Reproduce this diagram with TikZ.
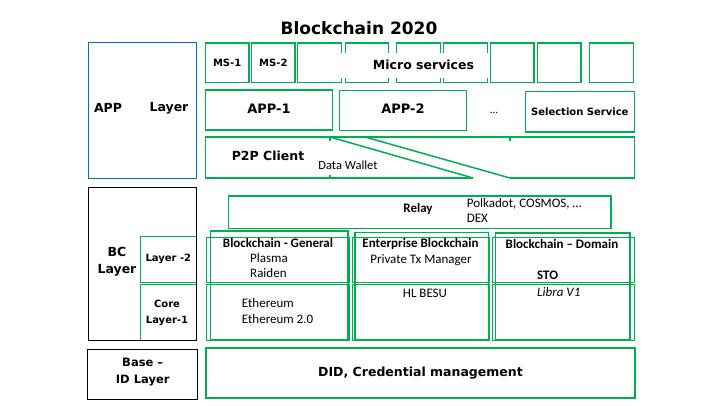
\documentclass[tikz,border=0pt]{standalone}
\usepackage{fontspec}
\setmainfont{Carlito}
\newfontfamily\dv{DejaVu Sans}
\definecolor{G}{HTML}{00B050}
\definecolor{BL}{HTML}{0070C0}
\begin{document}
\begin{tikzpicture}[x=1pt,y=-1pt,
  gbox/.style={draw=G, line width=1.5pt, inner sep=0pt},
  tbox/.style={draw=G, line width=0.8pt, inner sep=0pt},
  kbox/.style={draw=black, line width=1pt, inner sep=0pt},
  gline/.style={draw=G, line width=1.5pt},
  txt/.style={inner sep=0pt, text=black},
  dvbig/.style={font=\dv\bfseries\fontsize{12.5}{16.5}\selectfont},
  dvsmall/.style={font=\dv\bfseries\fontsize{10}{15.7}\selectfont},
  cal/.style={font=\fontsize{13}{15.6}\selectfont},
  calb/.style={font=\bfseries\fontsize{13}{15.6}\selectfont},
]
\useasboundingbox (0,0) rectangle (720,405);
\fill[white] (0,0) rectangle (720,405);

% title
\node[txt, font=\dv\bfseries\fontsize{17}{20}\selectfont] (title) at (359,28) {Blockchain 2020};

% APP layer
\node[draw=BL, line width=0.9pt, inner sep=0pt, minimum width=108.7pt, minimum height=135.3pt] (applayer) at (142.35,110.35) {};
\node[txt, dvbig] (applbl1) at (108,108) {APP};
\node[txt, dvbig] (applbl2) at (169,108) {Layer};

% micro services row
\node[gbox, minimum width=43.7pt, minimum height=39.7pt, dvsmall] (ms1) at (227.15,62.85) {MS-1};
\node[gbox, minimum width=43.3pt, minimum height=39.7pt, dvsmall] (ms2) at (273.35,62.85) {MS-2};
\node[gbox, minimum width=44.2pt, minimum height=39.7pt] (ms3) at (319.4,62.85) {};
\node[gbox, minimum width=42.6pt, minimum height=39.7pt] (ms4) at (367,62.85) {};
\node[gbox, minimum width=43.8pt, minimum height=39.7pt] (ms5) at (418.6,62.85) {};
\node[gbox, minimum width=44pt, minimum height=39.7pt] (ms6) at (465.3,62.85) {};
\node[gbox, minimum width=43.3pt, minimum height=39.7pt] (ms7) at (512.35,62.85) {};
\node[gbox, minimum width=43.3pt, minimum height=39.7pt] (ms8) at (559.35,62.85) {};
\node[gbox, minimum width=44pt, minimum height=39.7pt] (ms9) at (611.3,62.85) {};
\node[fill=white, inner sep=0pt, minimum width=150.5pt, minimum height=25pt] (mscover) at (414.25,65.5) {};
\node[txt, dvbig] (mstext) at (423.5,64.5) {Micro services};

% apps row
\node[gbox, minimum width=127pt, minimum height=40pt] (app1) at (268.8,110) {};
\node[txt, font=\dv\bfseries\fontsize{13}{16}\selectfont] (app1txt) at (269,108.3) {APP-1};
\node[gbox, minimum width=127.4pt, minimum height=40pt] (app2) at (403,110.5) {};
\node[txt, font=\dv\bfseries\fontsize{13}{16}\selectfont] (app2txt) at (403,108.5) {APP-2};
\node[txt, font=\fontsize{11}{13}\selectfont] (dots) at (494,113) {…};
\node[gbox, minimum width=109pt, minimum height=40.7pt, dvsmall] (selsvc) at (579.8,111.65) {Selection Service};

% P2P client band
\coordinate (pA) at (205.3,137);
\coordinate (pB) at (634.3,137);
\coordinate (pC) at (634.3,178);
\coordinate (pD) at (510,178);
\coordinate (pE) at (205.3,178);
\coordinate (pF) at (473,178);
\coordinate (pG) at (330,137);
\coordinate (pH) at (365,137);
\coordinate (tk1) at (330,178);
\coordinate (tk2) at (510,137);
\draw[gline] (pA) -- (pB) -- (pC) -- (pD);
\draw[gline] (pA) -- (pE) -- (pF);
\draw[gline] (pG) -- (pF);
\draw[gline] (pH) -- (pD);
\draw[gline] (pG) -- ++(0,3.5);
\draw[gline] (tk1) -- ++(0,-3.5);
\draw[gline] (tk2) -- ++(0,3.5);
\node[txt, dvbig] (p2p) at (268,156) {P2P Client};
\node[txt, font=\fontsize{12.5}{15}\selectfont] (wallet) at (348,165) {Data Wallet};

% BC layer
\node[tbox, minimum width=56.7pt, minimum height=46.3pt, dvsmall] (l2) at (168.35,259.15) {Layer -2};
\node[tbox, minimum width=56.7pt, minimum height=56.4pt] (l1) at (168.35,312.5) {};
\node[txt, dvsmall, align=center] (l1txt) at (167,313) {Core\\Layer-1};
\node[kbox, minimum width=108.4pt, minimum height=153.4pt] (bclayer) at (142.5,264) {};
\node[txt, dvbig, align=center] (bctxt) at (117,261.7) {BC\\Layer};

% relay
\node[gbox, minimum width=382.7pt, minimum height=32.3pt] (relay) at (419.65,212.15) {};
\node[txt, calb] (relaytxt) at (418,209) {Relay};
\node[txt, cal, align=left, anchor=west] (relaylist) at (466.7,210.5) {Polkadot, COSMOS, …\\DEX};

% thin table cells
\node[tbox, minimum width=143pt, minimum height=45.3pt] (c11) at (277.5,259.65) {};
\node[tbox, minimum width=136.5pt, minimum height=45.3pt] (c12) at (420.75,259.65) {};
\node[tbox, minimum width=141.8pt, minimum height=45.3pt] (c13) at (563.4,259.65) {};
\node[tbox, minimum width=143pt, minimum height=55.7pt] (c21) at (277.5,312.15) {};
\node[tbox, minimum width=136.5pt, minimum height=55.7pt] (c22) at (420.75,312.15) {};
\node[tbox, minimum width=141.8pt, minimum height=55.7pt] (c23) at (563.4,312.15) {};

% thick columns
\node[gbox, minimum width=137.5pt, minimum height=108.5pt] (colgen) at (279.25,285.25) {};
\node[gbox, minimum width=133.7pt, minimum height=107pt] (colent) at (421.85,286) {};
\node[gbox, minimum width=134.5pt, minimum height=106.5pt] (coldom) at (562.75,286.25) {};

\node[txt, calb] (gentitle) at (278,242.7) {Blockchain - General};
\node[txt, cal, align=left, anchor=west] (gen2) at (250,265.5) {Plasma\\Raiden};
\node[txt, cal, align=left, anchor=west] (gen1) at (241.7,311.2) {Ethereum\\Ethereum 2.0};
\node[txt, calb] (enttitle) at (420.5,244) {Enterprise Blockchain};
\node[txt, cal] (ent2) at (421,260) {Private Tx Manager};
\node[txt, cal] (ent1) at (425,293.3) {HL BESU};
\node[txt, calb] (domtitle) at (562,244) {Blockchain – Domain};
\node[txt, calb, anchor=west] (sto) at (537,275.7) {STO};
\node[txt, font=\itshape\fontsize{13}{15.6}\selectfont, anchor=west] (libra) at (537,291.7) {Libra V1};

% base layer
\node[kbox, minimum width=109.7pt, minimum height=50pt] (base) at (142.75,374) {};
\node[txt, align=center, font=\dv\bfseries\fontsize{11.5}{17.2}\selectfont] (basetxt) at (142.7,371.9) {Base –\\ID Layer};
\node[gbox, minimum width=429pt, minimum height=50pt, font=\dv\bfseries\fontsize{12.5}{15}\selectfont] (did) at (420.5,373) {DID, Credential management};
\end{tikzpicture}
\end{document}
